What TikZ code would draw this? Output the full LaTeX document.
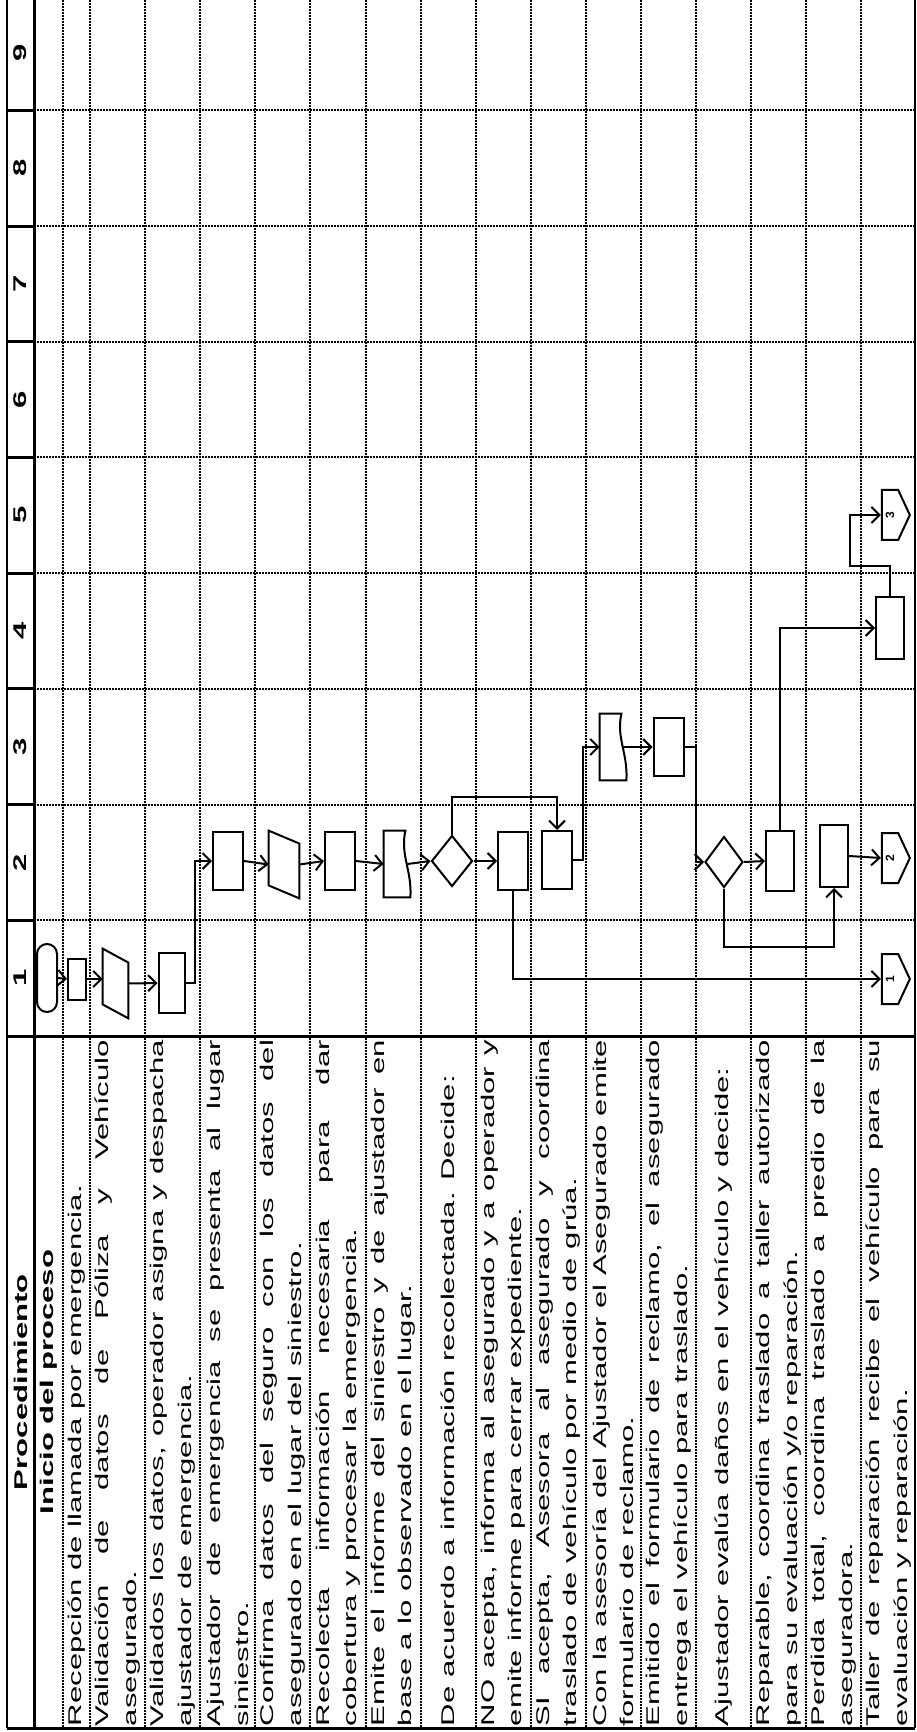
\documentclass[tikz,border=0pt]{standalone}
\usepackage{graphicx}
\usepackage{fontspec}
\setmainfont{Liberation Sans}
\usetikzlibrary{arrows.meta,shapes.geometric,shapes.symbols,calc}

\newcommand{\stretchx}{1.69}
\newcommand{\twoln}[2]{\scalebox{\stretchx}[1]{\parbox{203pt}{\makebox[203pt][s]{#1}\\#2}}}
\newcommand{\oneln}[1]{\scalebox{\stretchx}[1]{\makebox[203pt][l]{#1}}}
\newcommand{\hdln}[1]{\scalebox{\stretchx}[1]{#1}}

\begin{document}
\begin{tikzpicture}[x=0.5pt,y=-0.5pt,
 grid/.style={line width=1pt,dash pattern=on 1pt off 0.5pt},
 txt/.style={rotate=90,inner sep=0pt,font=\fontsize{9.2}{13.7}\selectfont},
 hdr/.style={rotate=90,inner sep=0pt,font=\fontsize{9.2}{13.7}\selectfont\bfseries},
 shp/.style={draw,line width=1pt},
 proc/.style={shp,minimum width=15pt,minimum height=29pt,inner sep=0pt},
 box/.style={inner sep=0pt,minimum width=13pt,minimum height=33pt},
 dec/.style={shp,diamond,inner sep=0pt,minimum width=20.5pt,minimum height=25.5pt},
 conn/.style={shp,signal,signal to=east,signal pointer angle=130,inner sep=0pt,minimum width=14pt,minimum height=25pt,font=\fontsize{6}{7}\selectfont\bfseries},
 arr/.style={line width=1pt,-{Straight Barb[length=4pt,width=8pt]}}]

\useasboundingbox (0,0) rectangle (916,1732);

% table
\foreach \k in {1,...,8}{
  \draw[grid] (34,{1036-115.7*\k}) -- (915,{1036-115.7*\k});
  \draw[line width=1.5pt] (7,{1036-115.7*\k}) -- (34,{1036-115.7*\k});
}
\foreach \k in {1,...,14}
  \draw[grid] ({90+55.1*\k},0) -- ({90+55.1*\k},1728);
\draw[grid] (63,0) -- (63,1728);
\draw[grid] (90,0) -- (90,1728);
\draw[line width=1pt] (7,0) -- (7,1728);
\draw[line width=1.5pt] (34,0) -- (34,1728);
\draw[line width=1pt] (915,0) -- (915,1728);
\draw[line width=1.5pt] (7,1036) -- (915,1036);
\draw[line width=1.5pt] (7,1728) -- (915,1728);

% header
\node[hdr] (proc) at (20.5,1382) {\hdln{Procedimiento}};
\foreach \n in {1,...,9}
  \node[hdr] (n\n) at (20.5,{1036-115.7*(\n-0.5)}) {\hdln{\n}};
\node[hdr] (ini) at (48.5,1382) {\hdln{Inicio del proceso}};

% steps
\node[txt] (t1) at (76.5,1383) {\oneln{Recepción de llamada por emergencia.}};
\node[txt] (t2) at (117.6,1383) {\twoln{Validación de datos de Póliza y Vehículo}{asegurado.}};
\node[txt] (t3) at (172.7,1383) {\twoln{Validados los datos, operador asigna y despacha}{ajustador de emergencia.}};
\node[txt] (t4) at (227.8,1383) {\twoln{Ajustador de emergencia se presenta al lugar}{siniestro.}};
\node[txt] (t5) at (282.9,1383) {\twoln{Confirma datos del seguro con los datos del}{asegurado en el lugar del siniestro.}};
\node[txt] (t6) at (338.0,1383) {\twoln{Recolecta información necesaria para dar}{cobertura y procesar la emergencia.}};
\node[txt] (t7) at (393.1,1383) {\twoln{Emite el informe del siniestro y de ajustador en}{base a lo observado en el lugar.}};
\node[txt] (t8) at (448.2,1383) {\oneln{De acuerdo a información recolectada. Decide:}};
\node[txt] (t9) at (503.3,1383) {\twoln{NO acepta, informa al asegurado y a operador y}{emite informe para cerrar expediente.}};
\node[txt] (t10) at (558.4,1383) {\twoln{SI acepta, Asesora al asegurado y coordina}{traslado de vehículo por medio de grúa.}};
\node[txt] (t11) at (613.5,1383) {\twoln{Con la asesoría del Ajustador el Asegurado emite}{formulario de reclamo.}};
\node[txt] (t12) at (668.6,1383) {\twoln{Emitido el formulario de reclamo, el asegurado}{entrega el vehículo para traslado.}};
\node[txt] (t13) at (723.7,1383) {\oneln{Ajustador evalúa daños en el vehículo y decide:}};
\node[txt] (t14) at (778.8,1383) {\twoln{Reparable, coordina traslado a taller autorizado}{para su evaluación y/o reparación.}};
\node[txt] (t15) at (833.9,1383) {\twoln{Perdida total, coordina traslado a predio de la}{aseguradora.}};
\node[txt] (t16) at (888.5,1383) {\twoln{Taller de reparación recibe el vehículo para su}{evaluación y reparación.}};

% symbols
\node[shp,rounded corners=5pt,minimum width=10pt,minimum height=34pt,inner sep=0pt] (st) at (47,978) {};
\node[proc,minimum width=9pt,minimum height=20.5pt] (r1) at (77,979) {};
\node[box,minimum width=12.5pt,minimum height=34.5pt] (v1) at (115.5,983.5) {};
\draw[shp] (v1.north west) -- ($(v1.north east)+(0,14)$) -- (v1.south east) -- ($(v1.south west)+(0,-14)$) -- cycle;
\node[proc,minimum width=13pt,minimum height=30pt] (r2) at (171.5,983) {};

\node[proc] (rA) at (228,861) {};
\node[box,minimum width=15pt,minimum height=33.5pt] (pB) at (284,864.5) {};
\draw[shp] (pB.north west) -- ($(pB.north east)+(0,13)$) -- (pB.south east) -- ($(pB.south west)+(0,-13)$) -- cycle;
\node[proc] (rC) at (340,861) {};
\node[box] (dD) at (397,864) {};
\draw[shp] (dD.south east) .. controls ($(dD.center)+(15,6)$) and ($(dD.center)+(3,-9)$) .. ($(dD.north east)+(-5,0)$) -- (dD.north west) -- (dD.south west) -- cycle;
\node[dec] (eE) at (452,861) {};
\node[proc] (rF) at (513,861) {};
\node[proc] (rG) at (557,860) {};

\node[box] (dH) at (613,747) {};
\draw[shp] (dH.south east) .. controls ($(dH.center)+(15,6)$) and ($(dH.center)+(3,-9)$) .. ($(dH.north east)+(-5,0)$) -- (dH.north west) -- (dH.south west) -- cycle;
\node[proc] (rI) at (668.5,747) {};

\node[dec,minimum width=19pt] (eJ) at (724,862) {};
\node[proc,minimum width=14pt,minimum height=30pt] (rK) at (780,861) {};
\node[proc,minimum width=14pt,minimum height=31pt] (rL) at (834,856) {};
\node[proc,minimum width=14pt,minimum height=31pt] (rM) at (890,628) {};
\node[conn] (c1) at (890,979) {\rotatebox{90}{1}};
\node[conn] (c2) at (890,858) {\rotatebox{90}{2}};
\node[conn] (c3) at (890,515) {\rotatebox{90}{3}};

% flow
\draw[arr] (st.east) -- (r1.west);
\draw[arr] (r1.east) -- (r1.east -| v1.west);
\draw[arr] (v1.east) -- (r2.west);
\draw[arr] (r2.east) -- ++(9,0) |- (rA.west);
\draw[arr] (rA.east) -- (pB.west);
\draw[arr] (pB.east) -- (rC.west);
\draw[arr] (rC.east) -- (dD.west);
\draw[arr] ($(dD.east)+(-3,0)$) -- (eE.west);
\draw[arr] (eE.east) -- (rF.west);
\draw[arr] (eE.north) -- ++(0,-38) -| (rG.north);
\draw[arr] (rF.south) |- (c1.west);
\draw[arr] (rG.east) -- ++(10,0) |- (dH.west);
\draw[arr] ($(dH.east)+(-3,0)$) -- (rI.west);
\draw[arr] (rI.east) -- ++(11,0) |- (eJ.west);
\draw[arr] (eJ.east) -- (rK.west);
\draw[arr] (eJ.south) -- ++(0,58) -| (rL.south);
\draw[arr] (rK.north) |- (rM.west);
\draw[arr] (rM.north) -- ++(0,-30) -- ++(-40,0) |- (c3.west);
\draw[arr] (rL.east) -- (c2.west);
\end{tikzpicture}
\end{document}
